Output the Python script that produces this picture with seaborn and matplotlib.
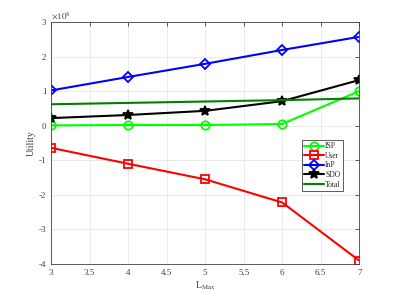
import matplotlib
matplotlib.use("Agg")
import matplotlib.pyplot as plt
import seaborn as sns
import pandas as pd

l_max = [3, 4, 5, 6, 7]
isp = [0.01, 0.02, 0.02, 0.05, 1.00]
user = [-0.64, -1.10, -1.55, -2.22, -3.90]
inp = [1.02, 1.41, 1.79, 2.19, 2.57]
sdo = [0.22, 0.31, 0.43, 0.71, 1.32]
total = [0.62, 0.66, 0.70, 0.74, 0.79]

series_names = ["ISP", "User", "InP", "SDO", "Total"]
series_vals = [isp, user, inp, sdo, total]
colors = ["#00ff00", "#ff0000", "#0000ff", "#000000", "#007f00"]
markers = ["o", "s", "D", "*", None]
x_ticks = [3, 3.5, 4, 4.5, 5, 5.5, 6, 6.5, 7]
y_ticks = [-4, -3, -2, -1, 0, 1, 2, 3]

sns.set_style("white")
plt.rcParams["font.family"] = ["Liberation Serif", "DejaVu Serif"]
plt.rcParams["mathtext.fontset"] = "stix"

fig = plt.figure(figsize=(3.96, 2.97), dpi=100)
ax = fig.add_axes([0.129, 0.111, 0.778, 0.815])

rows = []
for name, vals in zip(series_names, series_vals):
    for x, v in zip(l_max, vals):
        rows.append({"L": x, "val": v, "series": name})
df = pd.DataFrame(rows)

for name, c, m in zip(series_names, colors, markers):
    sub = df[df["series"] == name]
    kw = dict(linewidth=1.5, color=c, label=name)
    if m is not None:
        ms = {"o": 6, "s": 5.5, "D": 5.5, "*": 7}[m]
        kw.update(marker=m, markersize=ms, markerfacecolor=c if m == "*" else "none",
                  markeredgecolor=c, markeredgewidth=1.3)
    sns.lineplot(data=sub, x="L", y="val", ax=ax, **kw)

ax.set_xlim(3, 7)
ax.set_ylim(-4, 3)
ax.set_xticks(x_ticks)
ax.set_xticklabels([f"{t:g}" for t in x_ticks])
ax.set_yticks(y_ticks)
ax.set_yticklabels([str(t) for t in y_ticks])
ax.grid(True, color="#e6e6e6", linewidth=0.6)
ax.tick_params(direction="in", length=3, labelsize=6.5, colors="#404040",
               top=True, right=True, width=0.6)
for s in ax.spines.values():
    s.set_color("#404040")
    s.set_linewidth(0.6)
ax.set_xlabel(r"L$_{\mathrm{Max}}$", fontsize=7, color="#404040", labelpad=2)
ax.set_ylabel("Utility", fontsize=7, color="#404040", labelpad=2)
ax.text(0.0, 1.005, r"$\times10^{8}$", transform=ax.transAxes, fontsize=6.5,
        color="#404040", ha="left", va="bottom")

leg = ax.legend(loc="upper left", bbox_to_anchor=(0.815, 0.512), fontsize=5.5,
                frameon=True, fancybox=False, edgecolor="#404040", framealpha=1,
                handlelength=2.5, handletextpad=0.2, borderpad=0.3, labelspacing=0.2,
                borderaxespad=0)
leg.get_frame().set_linewidth(0.6)

fig.savefig("out.png", dpi=100)
